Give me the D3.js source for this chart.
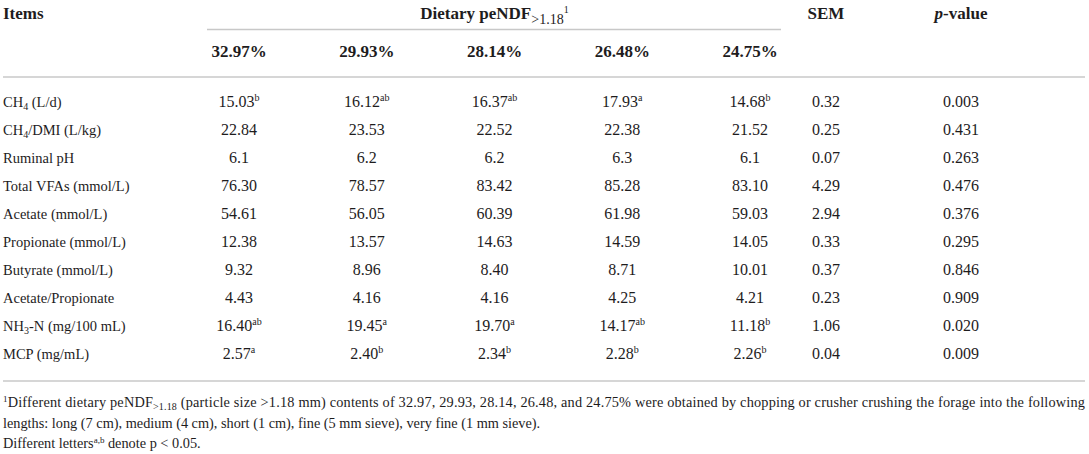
<!DOCTYPE html>
<html>
<head>
<meta charset="utf-8">
<script src="https://cdn.jsdelivr.net/npm/d3@7/dist/d3.min.js"></script>
<style>
  html, body { margin: 0; padding: 0; background: #fff; }
  svg { display: block; }
  text { font-family: "Liberation Serif", "Times New Roman", serif; fill: #1e1c1d; }
</style>
</head>
<body>
<svg id="chart" width="1089" height="454"></svg>
<script>
// ---- data ----
const items = [
  ["CH", "4", " (L/d)"],
  ["CH", "4", "/DMI (L/kg)"],
  ["Ruminal pH"],
  ["Total VFAs (mmol/L)"],
  ["Acetate (mmol/L)"],
  ["Propionate (mmol/L)"],
  ["Butyrate (mmol/L)"],
  ["Acetate/Propionate"],
  ["NH", "3", "-N (mg/100 mL)"],
  ["MCP (mg/mL)"]
];
const groups = ["32.97%", "29.93%", "28.14%", "26.48%", "24.75%"];
const diet3297 = ["15.03", "22.84", "6.1", "76.30", "54.61", "12.38", "9.32", "4.43", "16.40", "2.57"];
const diet2993 = ["16.12", "23.53", "6.2", "78.57", "56.05", "13.57", "8.96", "4.16", "19.45", "2.40"];
const diet2814 = ["16.37", "22.52", "6.2", "83.42", "60.39", "14.63", "8.40", "4.16", "19.70", "2.34"];
const diet2648 = ["17.93", "22.38", "6.3", "85.28", "61.98", "14.59", "8.71", "4.25", "14.17", "2.28"];
const diet2475 = ["14.68", "21.52", "6.1", "83.10", "59.03", "14.05", "10.01", "4.21", "11.18", "2.26"];
const letters3297 = ["b", "", "", "", "", "", "", "", "ab", "a"];
const letters2993 = ["ab", "", "", "", "", "", "", "", "a", "b"];
const letters2814 = ["ab", "", "", "", "", "", "", "", "a", "b"];
const letters2648 = ["a", "", "", "", "", "", "", "", "ab", "b"];
const letters2475 = ["b", "", "", "", "", "", "", "", "b", "b"];
const sem = ["0.32", "0.25", "0.07", "4.29", "2.94", "0.33", "0.37", "0.23", "1.06", "0.04"];
const pValue = ["0.003", "0.431", "0.263", "0.476", "0.376", "0.295", "0.846", "0.909", "0.020", "0.009"];
const footLine1 = ["Different dietary peNDF", ">1.18", " (particle size >1.18 mm) contents of 32.97, 29.93, 28.14, 26.48, and 24.75% were obtained by chopping or crusher crushing the forage into the following"];
const footLine2 = "lengths: long (7 cm), medium (4 cm), short (1 cm), fine (5 mm sieve), very fine (1 mm sieve).";
const footLine3 = ["Different letters", "a,b", " denote p < 0.05."];

const dietCols = [diet3297, diet2993, diet2814, diet2648, diet2475];
const letterCols = [letters3297, letters2993, letters2814, letters2648, letters2475];

// ---- layout ----
const svg = d3.select("#chart");
const x = d3.scalePoint().domain(groups).range([239, 750]);
const xSem = 826, xP = 961;
const rowIdx = d3.range(items.length);
const y = d3.scaleBand().domain(rowIdx).range([88, 368]);
const base = i => y(i) + y.bandwidth() / 2 + 5;

const lineColor = "#c8c8c8";
const hdrSize = 17, lblSize = 14.5, numSize = 16;

// rules
svg.append("line").attr("x1", 207).attr("x2", 781).attr("y1", 29.5).attr("y2", 29.5)
  .attr("stroke", lineColor).attr("stroke-width", 1.6);
svg.append("line").attr("x1", 3).attr("x2", 1085).attr("y1", 77).attr("y2", 77)
  .attr("stroke", lineColor).attr("stroke-width", 1.6);
svg.append("line").attr("x1", 3).attr("x2", 1085).attr("y1", 381).attr("y2", 381)
  .attr("stroke", lineColor).attr("stroke-width", 1.6);

// header row 1
svg.append("text").attr("x", 3).attr("y", 19).attr("font-size", hdrSize).attr("font-weight", "bold").text("Items");
const dh = svg.append("text").attr("x", (x(groups[0]) + x(groups[4])) / 2).attr("y", 19)
  .attr("text-anchor", "middle").attr("font-size", hdrSize);
dh.append("tspan").attr("font-weight", "bold").text("Dietary peNDF");
dh.append("tspan").attr("font-size", 14).attr("dy", 5).text(">1.18");
dh.append("tspan").attr("font-size", 10).attr("dy", -11).text("1");
svg.append("text").attr("x", xSem).attr("y", 19).attr("text-anchor", "middle")
  .attr("font-size", hdrSize).attr("font-weight", "bold").text("SEM");
const ph = svg.append("text").attr("x", xP).attr("y", 19).attr("text-anchor", "middle")
  .attr("font-size", hdrSize).attr("font-weight", "bold");
ph.append("tspan").attr("font-style", "italic").text("p");
ph.append("tspan").text("-value");

// header row 2
svg.selectAll("text.grp").data(groups).join("text").attr("class", "grp")
  .attr("x", d => x(d)).attr("y", 57).attr("text-anchor", "middle")
  .attr("font-size", hdrSize).attr("font-weight", "bold").text(d => d);

// row labels
svg.selectAll("text.lbl").data(items).join("text").attr("class", "lbl")
  .attr("x", 3).attr("y", (d, i) => base(i)).attr("font-size", lblSize)
  .each(function(d) {
    const t = d3.select(this);
    t.append("tspan").text(d[0]);
    if (d.length > 1) {
      t.append("tspan").attr("font-size", 10).attr("dy", 3).text(d[1]);
      t.append("tspan").attr("dy", -3).text(d[2]);
    }
  });

// diet values
dietCols.forEach((col, c) => {
  svg.selectAll("text.v" + c).data(col).join("text").attr("class", "v" + c)
    .attr("x", x(groups[c])).attr("y", (d, i) => base(i)).attr("text-anchor", "middle")
    .attr("font-size", numSize)
    .each(function(d, i) {
      const t = d3.select(this);
      t.append("tspan").text(d);
      const L = letterCols[c][i];
      if (L) t.append("tspan").attr("font-size", 10).attr("dy", -6).text(L);
    });
});

svg.selectAll("text.sem").data(sem).join("text").attr("class", "sem")
  .attr("x", xSem).attr("y", (d, i) => base(i)).attr("text-anchor", "middle")
  .attr("font-size", numSize).text(d => d);
svg.selectAll("text.pv").data(pValue).join("text").attr("class", "pv")
  .attr("x", xP).attr("y", (d, i) => base(i)).attr("text-anchor", "middle")
  .attr("font-size", numSize).text(d => d);

// footnotes
const fs = 14.3;
const f1 = svg.append("text").attr("x", 3).attr("y", 407).attr("font-size", fs);
f1.append("tspan").attr("font-size", 9).attr("dy", -5).text("1");
f1.append("tspan").attr("dy", 5).text(footLine1[0]);
f1.append("tspan").attr("font-size", 10).attr("dy", 3).text(footLine1[1]);
f1.append("tspan").attr("dy", -3).text(footLine1[2]);
f1.attr("textLength", 1082).attr("lengthAdjust", "spacing");

svg.append("text").attr("x", 3).attr("y", 428).attr("font-size", fs).text(footLine2);

const f3 = svg.append("text").attr("x", 3).attr("y", 448).attr("font-size", fs);
f3.append("tspan").text(footLine3[0]);
f3.append("tspan").attr("font-size", 9).attr("dy", -5).text(footLine3[1]);
f3.append("tspan").attr("dy", 5).text(footLine3[2]);
</script>
</body>
</html>
